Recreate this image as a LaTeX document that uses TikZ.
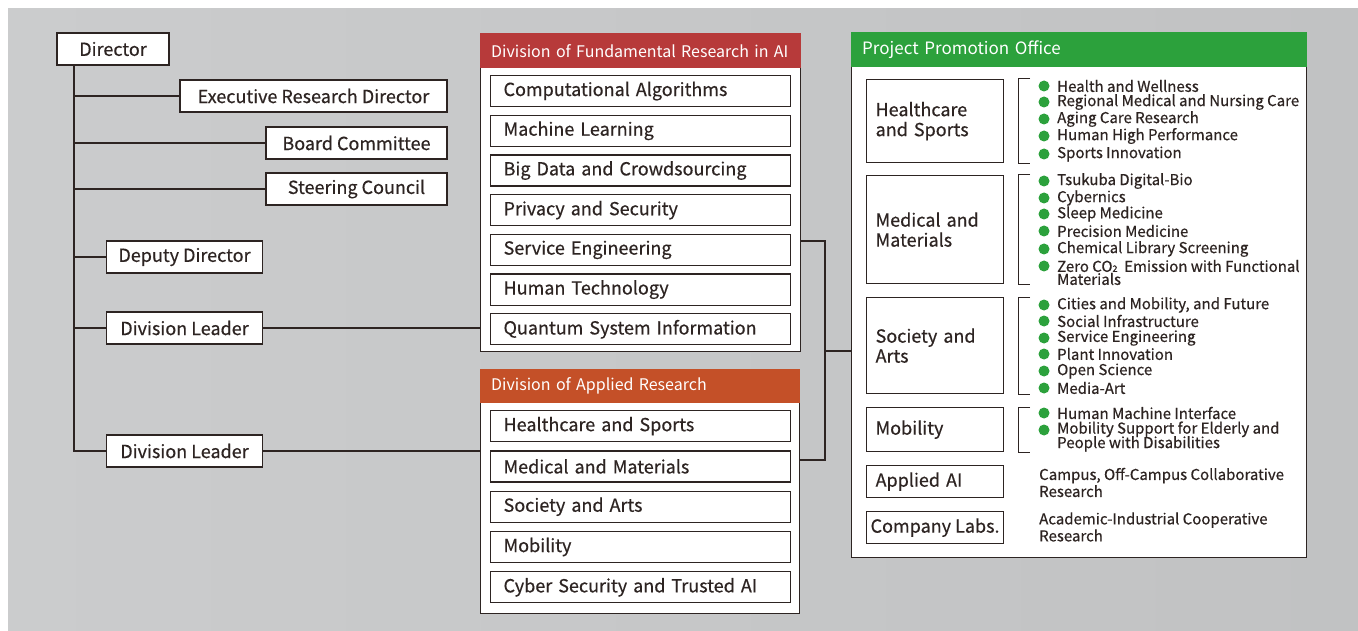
\documentclass[tikz,border=0pt]{standalone}
\usepackage{fontspec}
\setmainfont{Noto Sans CJK JP}[FakeBold=0.45]
\newfontfamily\headfont{Noto Sans CJK JP}
\usetikzlibrary{positioning,calc}

\definecolor{inkc}{RGB}{45,36,34}
\definecolor{bgleft}{RGB}{203,204,205}
\definecolor{bgright}{RGB}{193,194,195}
\definecolor{fundred}{RGB}{183,58,58}
\definecolor{applorange}{RGB}{196,80,40}
\definecolor{ppogreen}{RGB}{44,161,60}

\begin{document}
\begin{tikzpicture}[x=1pt,y=-1pt,
  box/.style={draw=inkc,fill=white,line width=1.2pt,inner sep=0pt,minimum height=32pt,
    text=inkc,font=\fontsize{18}{20}\selectfont},
  rowbox/.style={box,anchor=north west,text width=274pt,inner xsep=13pt,align=left,minimum height=31pt},
  unitbox/.style={box,anchor=north west,text width=119pt,inner xsep=9pt,align=left},
  panel/.style={draw=inkc,fill=white,line width=1.2pt,anchor=north west,inner sep=0pt},
  head/.style={anchor=north west,text=white,font=\headfont\fontsize{16}{18}\selectfont,
    inner xsep=11pt,inner ysep=0pt,align=left,minimum height=35pt},
  item/.style={anchor=west,inner sep=0pt,text=inkc,align=left,font=\fontsize{15}{15}\selectfont},
  link/.style={draw=inkc,line width=1.3pt}]

\useasboundingbox (0,0) rectangle (1358,631);
\shade[left color=bgleft,right color=bgright] (8,9) rectangle (1358,631);

% left column
\node[box,minimum width=112pt] (dir)   at (113,49)    {Director};
\node[box,minimum width=267pt] (exec)  at (313.5,96)  {Executive Research Director};
\node[box,minimum width=181pt] (board) at (356.5,143) {Board Committee};
\node[box,minimum width=181pt] (steer) at (356.5,189) {Steering Council};
\node[box,minimum width=156pt] (dep)   at (184.5,257) {Deputy Director};
\node[box,minimum width=156pt] (lead1) at (184.5,328) {Division Leader};
\node[box,minimum width=156pt] (lead2) at (184.5,451) {Division Leader};

\coordinate (spine) at (74,451);
\draw[link] (dir.south west -| spine) -- (spine) -- (lead2.west);
\foreach \n in {exec,board,steer,dep,lead1}
  \draw[link] (\n.west) -- (\n.west -| spine);

% division of fundamental research
\node[panel,minimum width=320pt,minimum height=318pt] (fund) at (480,33) {};
\node[head,fill=fundred,text width=299pt] (fundhead) at (480,33) {Division of Fundamental Research in AI};
\foreach \t [count=\i] in {Computational Algorithms,Machine Learning,Big Data and Crowdsourcing,
    Privacy and Security,Service Engineering,Human Technology,Quantum System Information}
  \node[rowbox] (fr\i) at (490,{75+39.7*(\i-1)}) {\t};

% division of applied research
\node[panel,minimum width=319pt,minimum height=244pt] (appl) at (480,369) {};
\node[head,fill=applorange,text width=298pt,minimum height=34pt] (applhead) at (480,369) {Division of Applied Research};
\foreach \t [count=\i] in {Healthcare and Sports,Medical and Materials,Society and Arts,
    Mobility,Cyber Security and Trusted AI}
  \node[rowbox] (ar\i) at (490,{410+40.3*(\i-1)}) {\t};

\draw[link] (lead1.east) -- (lead1.east -| fund.west);
\draw[link] (lead2.east) -- (lead2.east -| appl.west);

% project promotion office
\node[panel,minimum width=455pt,minimum height=525pt] (ppo) at (851,32) {};
\node[head,fill=ppogreen,text width=434pt,font=\headfont\fontsize{17}{19}\selectfont] (ppohead) at (851,32) {Project Promotion Office};

\node[unitbox,minimum height=83pt]  (hs)  at (866,79)  {Healthcare\\and Sports};
\node[unitbox,minimum height=108pt] (mm)  at (866,175) {Medical and\\Materials};
\node[unitbox,minimum height=96pt]  (sa)  at (866,297) {Society and\\Arts};
\node[unitbox,minimum height=44pt]  (mob) at (866,407) {Mobility};
\node[unitbox]                      (aai) at (866,465) {Applied AI};
\node[box,anchor=north west,minimum width=137pt] (cl) at (866,511) {Company Labs.};

\foreach \b in {hs,mm,sa,mob}
  \draw[link,line width=1pt] ([xshift=26pt]\b.north east) -- ([xshift=14pt]\b.north east)
    -- ([xshift=14pt]\b.south east) -- ([xshift=26pt]\b.south east);

\foreach \y/\t [count=\i] in {86/Health and Wellness,102/Regional Medical and Nursing Care,
    119/Aging Care Research,136/Human High Performance,154/Sports Innovation,
    181/Tsukuba Digital-Bio,198/Cybernics,214/Sleep Medicine,231/Precision Medicine,
    249/Chemical Library Screening,{305/Cities and Mobility, and Future},
    321/Social Infrastructure,338/Service Engineering,354/Plant Innovation,
    371/Open Science,388/Media-Art,413/Human Machine Interface}
  \node[item] (it\i) at (1057,\y) {\t};
\node[item] (itco2) at (1057,272.5) {Zero CO{\fontsize{9}{9}\selectfont 2}\ \ Emission with Functional\\[-2pt]Materials};
\node[item] (itmob) at (1057,436.5) {Mobility Support for Elderly and\\[-2pt]People with Disabilities};
\foreach \y in {86,102,119,136,154,181,198,214,231,249,266,305,321,338,354,371,388,413,430}
  \fill[ppogreen] (1044,\y) circle (5.5pt);

\node[item,font=\fontsize{15}{17}\selectfont] (aaitxt) at (1039,482.5) {Campus, Off-Campus Collaborative\\Research};
\node[item,font=\fontsize{15}{17}\selectfont] (cltxt)  at (1039,527) {Academic-Industrial Cooperative\\Research};

% links between panels
\coordinate (jtop) at (825,241);
\coordinate (jmid) at (825,351);
\coordinate (jbot) at (825,460);
\draw[link] (jtop -| fund.east) -- (jtop) -- (jbot) -- (jbot -| appl.east);
\draw[link] (jmid) -- (jmid -| ppo.west);
\end{tikzpicture}
\end{document}
